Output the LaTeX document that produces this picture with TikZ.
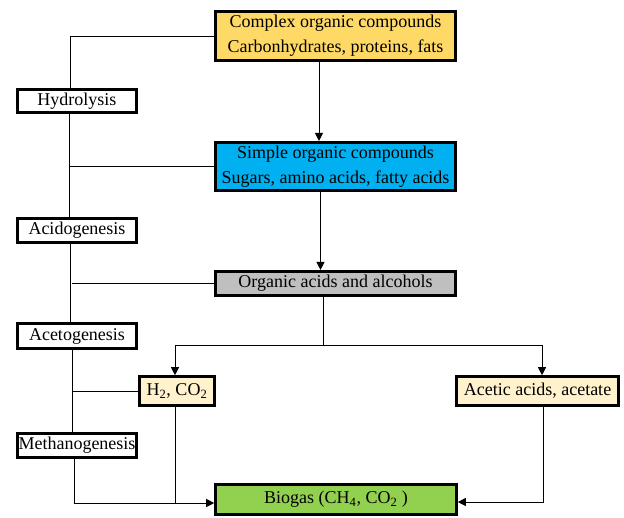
\documentclass[tikz,border=0pt]{standalone}
\usepackage{fontspec}
\setmainfont{Liberation Serif}
\usetikzlibrary{arrows.meta}
\definecolor{cplx}{RGB}{255,217,102}
\definecolor{simp}{RGB}{0,176,240}
\definecolor{orga}{RGB}{191,191,191}
\definecolor{pale}{RGB}{255,242,204}
\definecolor{bio}{RGB}{146,208,80}
\begin{document}
\begin{tikzpicture}[x=1pt,y=-1pt,
  box/.style={draw, line width=2.6pt, inner sep=0pt, outer sep=1.3pt, align=center, font=\fontsize{18}{25}\selectfont},
  stagebox/.style={box, fill=white, minimum width=119, minimum height=24},
  conn/.style={line width=0.8pt},
  arr/.style={conn, -{Triangle[length=8pt,width=8pt]}}]
\useasboundingbox (0,0) rectangle (624,517);
% main chain
\node[box, fill=cplx, minimum width=240.5, minimum height=49.5] (complex) at (335.5,36) {Complex organic compounds\\Carbonhydrates, proteins, fats};
\node[box, fill=simp, minimum width=240.5, minimum height=48.5] (simple) at (335.5,166.5) {Simple organic compounds\\Sugars, amino acids, fatty acids};
\node[box, fill=orga, minimum width=240.5, minimum height=24.5] (organic) at (335.5,283.5) {Organic acids and alcohols};
\node[box, fill=pale, minimum width=75, minimum height=29] (h2) at (177,391) {H\textsubscript{2}, CO\textsubscript{2}};
\node[box, fill=pale, minimum width=162, minimum height=29] (acetic) at (537.5,391) {Acetic acids, acetate};
\node[box, fill=bio, minimum width=241, minimum height=30] (biogas) at (336,499.5) {Biogas (CH\textsubscript{4}, CO\textsubscript{2} )};
% stages
\node[stagebox, minimum height=23] (hydro) at (77,101) {Hydrolysis};
\node[stagebox] (acido) at (77,230.5) {Acidogenesis};
\node[stagebox, minimum height=25] (aceto) at (77,336) {Acetogenesis};
\node[stagebox] (methano) at (77,445.5) {Methanogenesis};
% helper coordinates
\coordinate (j1) at (69,166.5);
\coordinate (j2) at (72,283.5);
\coordinate (j3) at (72,391);
\coordinate (split) at (323,345);
\coordinate (bw) at ([yshift=-3.5pt]biogas.west);
\coordinate (be) at ([yshift=-2.5pt]biogas.east);
% main arrows
\draw[arr] ([xshift=-16.5pt]complex.south) -- ([xshift=-16.5pt]simple.north);
\draw[arr] ([xshift=-15pt]simple.south) -- ([xshift=-15pt]organic.north);
\draw[conn] ([xshift=-12.5pt]organic.south) -- (split);
\draw[arr] (split) -| ([xshift=-2pt]h2.north);
\draw[arr] (split) -| ([xshift=4.5pt]acetic.north);
\draw[arr] ([xshift=5.5pt]acetic.south) |- (be);
\draw[conn] ([xshift=-2pt]h2.south) -- ([xshift=-2pt]h2.south |- bw);
% stage spine
\draw[conn] (complex.west) -| ([xshift=-7pt]hydro.north);
\draw[conn] ([xshift=-8pt]hydro.south) -- ([xshift=-8pt]acido.north);
\draw[conn] (simple.west) -- (j1);
\draw[conn] ([xshift=-7pt]acido.south) -- ([xshift=-7pt]aceto.north);
\draw[conn] (organic.west) -- (j2);
\draw[conn] ([xshift=-5pt]aceto.south) -- ([xshift=-5pt]methano.north);
\draw[conn] (h2.west) -- (j3);
\draw[arr] ([xshift=-3pt]methano.south) |- (bw);
\end{tikzpicture}
\end{document}
